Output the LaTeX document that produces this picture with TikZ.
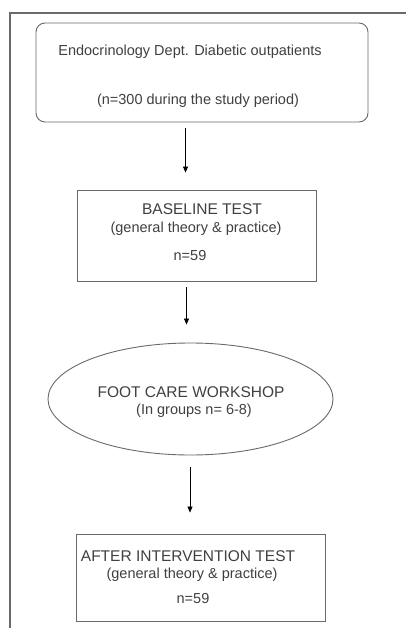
\documentclass[tikz,border=0pt]{standalone}
\usepackage{fontspec}
\setmainfont{Liberation Sans}
\usetikzlibrary{arrows.meta,shapes.geometric}
\definecolor{txt}{HTML}{404040}
\definecolor{edge}{HTML}{6A6A6A}
\begin{document}
\begin{tikzpicture}[x=1pt,y=-1pt,
  box/.style={draw=edge,line width=0.9pt,inner sep=0pt},
  lbl/.style={text=txt,inner sep=0pt,text height=10.5pt,text depth=0.5pt,font=\fontsize{14.5}{16}\selectfont},
  caps/.style={lbl,font=\fontsize{15.5}{17}\selectfont},
  arr/.style={draw=black,line width=0.7pt,-{Triangle[length=6pt,width=5pt]}}]
\useasboundingbox[fill=white] (0,0) rectangle (406,628);
% outer frame (partially visible)
\draw[edge,line width=1.1pt] (10,628) -- (10,13) -- (406,13);
% box 1
\node[box,rounded corners=9pt,minimum width=332pt,minimum height=99pt] (b1) at (202,72.5) {};
\node[lbl] (t1a) at (190,50.5) {Endocrinology Dept. Diabetic outpatients};
\node[lbl] (t1b) at (198,99.5) {(n=300 during the study period)};
% box 2
\node[box,minimum width=239pt,minimum height=91pt] (b2) at (196.5,235.5) {};
\node[caps] (t2a) at (202,209.5) {BASELINE TEST};
\node[lbl] (t2b) at (196,228) {(general theory \& practice)};
\node[lbl] (t2c) at (190,255) {n=59};
% ellipse
\node[box,ellipse,minimum width=285pt,minimum height=112pt] (e3) at (190.5,399) {};
\node[caps] (t3a) at (191,392) {FOOT CARE WORKSHOP};
\node[lbl] (t3b) at (194,409) {(In groups n= 6-8)};
% box 4
\node[box,minimum width=249pt,minimum height=87pt] (b4) at (200.5,577.5) {};
\node[caps] (t4a) at (188,556) {AFTER INTERVENTION TEST};
\node[lbl] (t4b) at (192,573) {(general theory \& practice)};
\node[lbl] (t4c) at (193,598) {n=59};
% arrow x positions
\coordinate (x1) at (185.5,0);
\coordinate (x2) at (186.5,0);
\coordinate (x3) at (190,0);
\draw[arr,shorten <=6pt,shorten >=17pt] (b1.south -| x1) -- (b2.north -| x1);
\draw[arr,shorten <=6pt,shorten >=18pt] (b2.south -| x2) -- (e3.north -| x2);
\draw[arr,shorten <=12pt,shorten >=21pt] (e3.south -| x3) -- (b4.north -| x3);
\end{tikzpicture}
\end{document}
